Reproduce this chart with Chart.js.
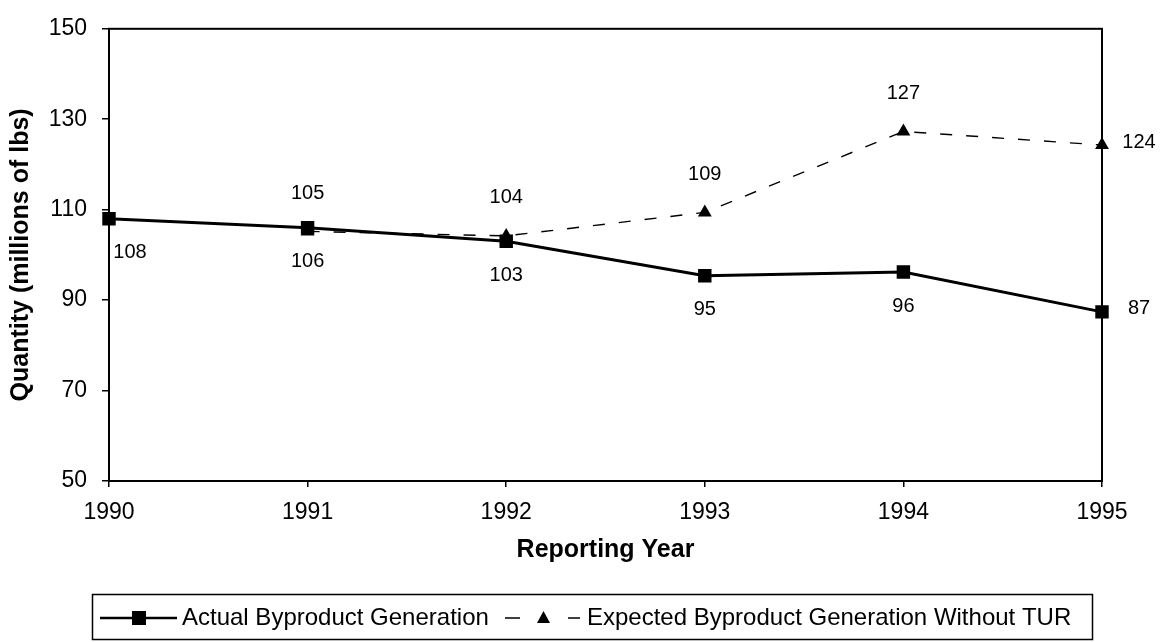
<!DOCTYPE html>
<html>
<head>
<meta charset="utf-8">
<script src="https://cdn.jsdelivr.net/npm/chart.js@4"></script>
<style>
    html, body { margin: 0; padding: 0; background: #fff; }
</style>
</head>
<body>
<canvas id="byproductChart" width="1162" height="642"></canvas>
<script>
// data
const years = ["1990", "1991", "1992", "1993", "1994", "1995"];
const actualGeneration = [108, 106, 103, 95.4, 96.2, 87.4];
const expectedWithoutTur = [null, 105.2, 104.2, 109.4, 127.3, 124.3];
const seriesNames = ["Actual Byproduct Generation", "Expected Byproduct Generation Without TUR"];
const yMin = 50, yMax = 150, yStep = 20;

const FONT = "'Liberation Sans', Arial, sans-serif";

// plot area border (top and right sides)
const frame = {
    id: "frame",
    beforeDatasetsDraw(chart) {
        const a = chart.chartArea, ctx = chart.ctx;
        ctx.save();
        ctx.strokeStyle = "#000";
        ctx.lineWidth = 2;
        ctx.strokeRect(a.left, a.top, a.right - a.left, a.bottom - a.top);
        ctx.restore();
    }
};

// value labels: actual below, expected above, last point to the right
const valueLabels = {
    id: "valueLabels",
    afterDatasetsDraw(chart) {
        const ctx = chart.ctx, a = chart.chartArea;
        ctx.save();
        ctx.font = "20px " + FONT;
        ctx.fillStyle = "#000";
        ctx.textAlign = "center";
        ctx.textBaseline = "middle";
        chart.data.datasets.forEach((ds, i) => {
            chart.getDatasetMeta(i).data.forEach((pt, j) => {
                const v = ds.data[j];
                if (v == null) return;
                let x = pt.x, y = pt.y;
                if (j === ds.data.length - 1) {
                    x += 37;
                    y -= 3;
                } else if (i === 0) {
                    y += 34;
                } else {
                    y -= 38;
                }
                x = Math.max(x, a.left + 21);
                ctx.fillText(String(Math.round(v)), x, y);
            });
        });
        ctx.restore();
    }
};

// boxed legend under the x axis title
const boxLegend = {
    id: "boxLegend",
    afterDraw(chart) {
        const ctx = chart.ctx;
        const yMid = 618;
        ctx.save();
        ctx.strokeStyle = "#000";
        ctx.fillStyle = "#000";
        ctx.lineWidth = 1.5;
        ctx.strokeRect(92.5, 594.5, 1000, 45);

        // actual: solid line with square
        ctx.lineWidth = 2.5;
        ctx.beginPath();
        ctx.moveTo(100, yMid);
        ctx.lineTo(177, yMid);
        ctx.stroke();
        ctx.fillRect(132, yMid - 7, 14, 14);

        // expected: dashed line with triangle
        ctx.lineWidth = 1.5;
        ctx.beginPath();
        ctx.moveTo(505, yMid); ctx.lineTo(520, yMid);
        ctx.moveTo(568, yMid); ctx.lineTo(580, yMid);
        ctx.stroke();
        ctx.beginPath();
        ctx.moveTo(543.5, yMid - 7);
        ctx.lineTo(550, yMid + 5);
        ctx.lineTo(537, yMid + 5);
        ctx.closePath();
        ctx.fill();

        ctx.font = "24px " + FONT;
        ctx.textAlign = "left";
        ctx.textBaseline = "middle";
        ctx.fillText(seriesNames[0], 182, yMid);
        ctx.fillText(seriesNames[1], 587, yMid);
        ctx.restore();
    }
};

const ctx = document.getElementById("byproductChart").getContext("2d");
new Chart(ctx, {
    type: "line",
    data: {
        labels: years,
        datasets: [{
            label: seriesNames[0],
            data: actualGeneration,
            borderColor: "#000",
            backgroundColor: "#000",
            borderWidth: 3,
            pointStyle: "rect",
            pointRadius: 9.5,
            pointBorderWidth: 0,
            tension: 0
        }, {
            label: seriesNames[1],
            data: expectedWithoutTur,
            borderColor: "#000",
            backgroundColor: "#000",
            borderWidth: 1.4,
            borderDash: [12, 14],
            pointStyle: "triangle",
            pointRadius: 8,
            pointBorderWidth: 0,
            tension: 0
        }]
    },
    options: {
        responsive: false,
        animation: false,
        layout: {
            padding: { left: 0, right: 60, top: 22, bottom: 71 }
        },
        plugins: {
            legend: { display: false },
            tooltip: { enabled: false }
        },
        scales: {
            x: {
                offset: false,
                grid: { display: true, drawOnChartArea: false, color: "#000", tickLength: 6, lineWidth: 1.5 },
                border: { display: true, color: "#000", width: 2 },
                ticks: { color: "#000", font: { family: FONT, size: 23 }, padding: 12, maxRotation: 0 },
                title: {
                    display: true,
                    text: "Reporting Year",
                    color: "#000",
                    font: { family: FONT, size: 25, weight: "bold" },
                    padding: { top: 0, bottom: 6 }
                },
                afterFit(scale) { scale.height = 90; }
            },
            y: {
                min: yMin,
                max: yMax,
                grid: { display: true, drawOnChartArea: false, color: "#000", tickLength: 7, lineWidth: 1.5 },
                border: { display: true, color: "#000", width: 2 },
                ticks: { stepSize: yStep, color: "#000", font: { family: FONT, size: 23 }, padding: 15 },
                title: {
                    display: true,
                    text: "Quantity (millions of lbs)",
                    color: "#000",
                    font: { family: FONT, size: 25, weight: "bold" },
                    padding: { top: 6, bottom: 0 }
                },
                afterFit(scale) { scale.width = 109; }
            }
        }
    },
    plugins: [frame, valueLabels, boxLegend]
});
</script>
</body>
</html>
